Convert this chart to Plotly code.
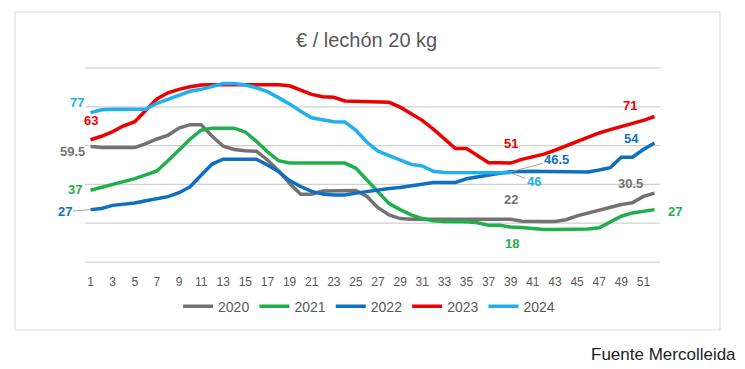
import plotly.graph_objects as go

# ---------------- data ----------------
weeks = list(range(1, 53))
tick_weeks = list(range(1, 52, 2))
years = ["2020", "2021", "2022", "2023", "2024"]

v2020 = [59.5, 59, 59, 59, 59, 61, 63.4, 65.3, 69, 70.8, 70.8, 64.8, 59.7, 58, 57.3, 57.1,
         52.6, 47.1, 40.6, 34.9, 34.9, 36.6, 36.7, 37.1, 36.9, 33.8, 28, 24.3, 22.4, 22,
         22, 22, 22, 22, 22, 22, 22, 22, 22, 21, 20.8, 20.9, 20.9, 21.8, 23.8, 25.3, 26.5,
         27.9, 29.6, 30.5, 33.8, 35.5]
v2021 = [37, 38.4, 40, 41.2, 43, 44.9, 46.9, 52.2, 57.8, 63.3, 67.9, 69, 69, 69, 67, 62.2,
         56.8, 52.2, 51, 51, 51, 51, 51, 51, 48.3, 42.3, 36, 30.1, 27, 24.3, 22.4, 21.3,
         20.9, 21, 20.7, 20.2, 19, 18.9, 18, 17.8, 17.3, 16.8, 16.8, 16.8, 16.8, 17, 17.7,
         20.6, 23.6, 25.3, 26.2, 27]
v2022 = [27, 27.6, 29.2, 29.8, 30.4, 31.6, 32.5, 33.7, 35.7, 38.8, 44.7, 50.5, 53, 53, 53,
         53, 50, 46.6, 42, 38.9, 36.4, 35, 34.5, 34.6, 35.5, 36.4, 37.2, 37.9, 38.4, 39.4,
         40.3, 41, 41, 41, 42.9, 44, 44.7, 45.8, 46.5, 46.8, 46.8, 46.7, 46.6, 46.5, 46.5,
         46.4, 47.4, 48.6, 54, 54, 58, 61.4]
v2023 = [63, 64.8, 67.2, 70.2, 72.3, 78.4, 84, 87.2, 89, 90.3, 91.2, 91.3, 91.3, 91.3, 91.3,
         91.3, 91.3, 91.3, 90.8, 88.6, 86.4, 85.2, 84.9, 83, 82.8, 82.8, 82.8, 82.3, 79.8,
         76.4, 73, 68.5, 63.6, 58.5, 58.5, 54.6, 51.2, 51.2, 51, 52.9, 54.3, 55.6, 57.6,
         59.9, 62.2, 64.6, 66.5, 68.2, 69.8, 71, 73, 75]
v2024 = [77, 78.5, 78.7, 78.7, 78.7, 78.7, 81.8, 84, 86, 88, 89, 90.5, 92, 92, 91.2, 89.8,
         87.8, 84.7, 81.5, 77.7, 74.3, 73.3, 72.3, 72.2, 67.9, 61.7, 57.1, 54.8, 52.6, 50.3,
         49.5, 46.8, 46.1, 46.1, 46.1, 46.1, 46.1, 46.1, 46]

series = {"2020": v2020, "2021": v2021, "2022": v2022, "2023": v2023, "2024": v2024}
grid_values = [0, 20, 40, 60, 80, 100]

# ---------------- style ----------------
colors = {"2020": "#767171", "2021": "#1fb04c", "2022": "#0f6fc1",
          "2023": "#ee0000", "2024": "#1fb1ef"}
FONT = "Liberation Sans, Arial, sans-serif"
TXT = "#595959"
GRID = "#d0d0d0"

# label specs: (series, week, xshift px, yshift px (up = +), leader line)
label_specs = [
    ("2024", 1, -14, 10, False),
    ("2023", 1, 0, 19, False),
    ("2020", 1, -18, -5, False),
    ("2021", 1, -16, 1, False),
    ("2022", 1, -26, -2, True),
    ("2023", 39, 0, 20, False),
    ("2022", 39, 46, 12, True),
    ("2024", 39, 23, -9, True),
    ("2020", 39, 0, 20, False),
    ("2021", 39, 1, -16, False),
    ("2023", 50, -2, 19, False),
    ("2022", 50, -1, 19, False),
    ("2020", 50, -2, 19, False),
    ("2021", 52, 21, -2, False),
]

fig = go.Figure()

# horizontal gridlines (value axis) drawn as full-width lines under the data
for g in grid_values:
    fig.add_hline(y=g, line=dict(color=GRID, width=1.3), layer="below")

for y in years:
    vals = series[y]
    fig.add_trace(go.Scatter(
        x=weeks[:len(vals)], y=vals, mode="lines", name=y,
        line=dict(color=colors[y], width=3.5), hoverinfo="skip"))

for s, w, dx, dy, arrow in label_specs:
    val = series[s][w - 1]
    txt = f"<b>{val:g}</b>"
    if arrow:
        fig.add_annotation(x=w, y=val, xref="x", yref="y", text=txt,
                           showarrow=True, ax=dx, ay=-dy, arrowhead=0,
                           arrowwidth=1, arrowcolor="#a6a6a6", standoff=0,
                           font=dict(family=FONT, size=13, color=colors[s]))
    else:
        fig.add_annotation(x=w, y=val, xref="x", yref="y", text=txt,
                           showarrow=False, xshift=dx, yshift=dy,
                           font=dict(family=FONT, size=13, color=colors[s]))

# title
fig.add_annotation(text="€ / lechón 20 kg", xref="paper", yref="paper",
                   x=0.49, y=1.138, showarrow=False, xanchor="center", yanchor="middle",
                   font=dict(family=FONT, size=20, color=TXT))
# source
fig.add_annotation(text="Fuente Mercolleida", xref="paper", yref="paper",
                   x=1.135, y=-0.469, showarrow=False, xanchor="right", yanchor="middle",
                   font=dict(family=FONT, size=17, color="#222222"))
# chart border
fig.add_shape(type="rect", xref="paper", yref="paper",
              x0=-0.1217, x1=1.1043, y0=-0.3418, y1=1.2806,
              line=dict(color="#d9d9d9", width=1), fillcolor="rgba(0,0,0,0)", layer="below")

# page body has an 8px default margin -> figure is 8px smaller, margins shifted by 8px
fig.update_layout(
    width=737, height=361,
    margin=dict(l=77, r=85, t=59, b=106, autoexpand=False),
    paper_bgcolor="white", plot_bgcolor="white",
    showlegend=True,
    legend=dict(orientation="h", x=0.494, y=-0.223, xanchor="center", yanchor="middle",
                font=dict(family=FONT, size=14, color=TXT), itemwidth=30,
                bgcolor="rgba(0,0,0,0)"),
    font=dict(family=FONT, color=TXT),
)
fig.update_xaxes(range=[0.5, 52.5], tickvals=tick_weeks, ticktext=[str(t) for t in tick_weeks],
                 showgrid=False, zeroline=False, showline=False, ticks="",
                 tickfont=dict(family=FONT, size=12, color=TXT), ticklabelstandoff=10)
fig.update_yaxes(range=[-0.5, 100.5], tickvals=grid_values, showticklabels=False,
                 showgrid=False, zeroline=False, showline=False, ticks="")

fig.write_html("out.html")
